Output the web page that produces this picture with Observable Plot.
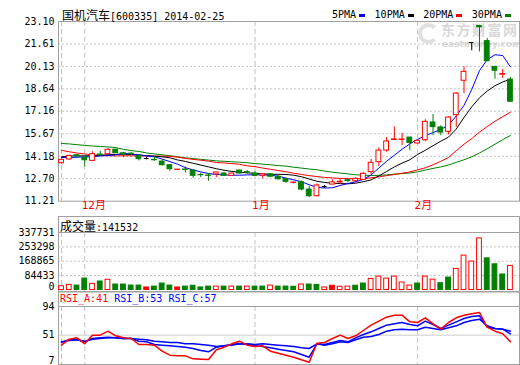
<!DOCTYPE html>
<html><head><meta charset="utf-8">
<script src="https://cdn.jsdelivr.net/npm/d3@7"></script>
<script src="https://cdn.jsdelivr.net/npm/@observablehq/plot@0.6"></script>
<style>
html,body{margin:0;padding:0;background:#fff;}
#chart{position:relative;width:520px;height:365px;overflow:hidden;background:#fff;}
.abs{position:absolute;}
.mono{font-family:"DejaVu Sans Mono",monospace;font-size:10px;}
.cjk{font-family:"Noto Sans CJK SC",sans-serif;font-size:12px;}
.hdr{position:absolute;left:58px;width:462px;box-sizing:border-box;border:1px solid #a0a0a0;border-bottom:none;}
.sw{display:inline-block;width:6px;height:3px;vertical-align:middle;margin:0 9.5px 0 3px;}
.line{white-space:nowrap;line-height:12px;}
</style></head><body>
<div id="chart">
  <div class="abs" id="wm" style="left:416px;top:21px;color:#d8d8d8;white-space:nowrap;">
    <div class="abs" style="left:2px;top:2px;width:13px;height:13px;border-radius:50%;border:4px solid #e0e0e0;border-right-color:transparent;"></div>
    <div class="abs" style="left:25px;top:1px;font-family:'Noto Sans CJK SC';font-weight:bold;font-size:14px;line-height:14px;letter-spacing:1.5px;">东方财富网</div>
    <div class="abs" style="left:26px;top:19px;font-family:'DejaVu Sans';font-weight:bold;font-size:9px;line-height:9px;">eastmoney.com</div>
  </div>
  <div class="abs" id="p1" style="left:0;top:0;"></div>
  <div class="abs line" id="title" style="left:62px;top:9px;"></div>
  <div class="abs line mono" id="legend" style="left:332px;top:9px;"></div>
  <div class="hdr" style="top:216px;height:16px;"></div>
  <div class="abs" id="p2" style="left:0;top:216px;"></div>
  <div class="abs line" id="volhdr" style="left:60px;top:220px;"></div>
  <div class="hdr" style="top:291px;height:15px;"></div>
  <div class="abs" id="p3" style="left:0;top:291px;"></div>
  <div class="abs line mono" id="rsihdr" style="left:60px;top:293px;"></div>
</div>
<script>
// ---------- data ----------
const stockName = "国机汽车";
const stockCode = "[600335] 2014-02-25";
const open  = [13.72,13.97,14.25,14.08,13.88,14.30,14.32,14.62,14.38,14.36, 14.21,14.03,13.95,13.83,13.59,13.28,13.31,13.24,12.95,12.91, 12.98,13.04,12.89,13.24,13.13,13.04,12.89,12.99,12.83,12.66, 12.42,12.47,11.98,11.54,12.18,12.31,12.45,12.60,12.53,12.62, 13.13,13.79,14.56,15.26,15.27,15.42,15.03,15.24,16.42,16.09, 15.80,16.90,19.18,21.71,22.80,21.80,20.10,19.58,19.26];
const high  = [14.00,14.25,14.30,14.21,14.48,14.52,14.69,14.65,14.45,14.42, 14.25,14.10,14.18,13.92,13.62,13.31,13.48,13.26,13.06,13.04, 13.13,13.10,13.08,13.26,13.24,13.20,13.00,13.02,12.92,12.70, 12.50,12.55,12.20,12.35,12.25,12.62,12.66,12.66,12.75,13.12, 13.98,14.74,15.41,16.12,15.71,15.45,15.25,16.60,16.95,16.20, 16.80,18.40,20.10,21.71,22.85,21.98,20.12,19.94,19.40];
const low   = [13.65,13.92,14.12,13.48,13.82,14.20,14.30,14.36,14.10,14.26, 13.87,13.95,13.85,13.55,13.19,13.27,13.08,12.73,12.76,12.53, 12.76,12.86,12.86,13.02,12.99,12.86,12.70,12.80,12.60,12.40, 12.35,11.90,11.45,11.49,12.05,12.30,12.30,12.42,12.42,12.58, 12.97,13.50,14.45,15.23,14.89,14.55,15.00,15.15,15.54,15.54, 15.60,16.10,18.33,21.16,21.09,20.45,19.28,19.33,17.79];
const close = [13.95,14.21,14.18,13.92,14.32,14.24,14.61,14.38,14.30,14.32, 13.99,14.03,13.92,13.59,13.33,13.30,13.28,12.89,12.93,12.89, 13.11,12.89,13.04,13.04,13.11,12.89,12.99,12.83,12.66,12.49, 12.44,11.98,11.54,12.25,12.18,12.45,12.50,12.55,12.69,13.02, 13.75,14.56,15.16,15.30,15.30,15.06,15.21,16.46,16.11,15.75, 16.75,18.33,19.77,21.71,22.72,20.47,19.84,19.62,17.79];
const volume = [22000,30000,26000,67000,36000,50000,60000,32000,32000,26000, 26000,15000,20000,38000,26000,15000,20000,25000,15000,20000, 20000,20000,20000,20000,20000,20000,20000,26000,20000,20000, 19000,32000,32000,30000,15000,25000,19000,20000,25000,38000, 65000,79000,67000,79000,44000,26000,38000,79000,61000,40000, 73000,124000,202000,167000,303000,186000,151000,91000,141532];
// u = up (hollow red), d = down (green), f = flat (filled red)
const volDir = "uuddududdddfdddfddddudududduddduddufuudduuuuuuduudduuuudddud".slice(0,59);
const ma5  = [14.10,14.10,14.12,14.14,14.15,14.20,14.23,14.28,14.38,14.33, 14.28,14.20,14.15,14.00,13.83,13.66,13.43,13.28,13.15,13.04, 12.98,12.95,12.93,12.93,12.95,12.96,12.95,12.93,12.86,12.74, 12.62,12.50,12.30,12.13,12.08,12.10,12.25,12.38,12.50,12.65, 12.95,13.40,13.85,14.25,14.65,15.00,15.30,15.55,15.75,15.95, 16.25,16.85,17.55,18.60,19.85,20.58,20.90,20.85,20.10];
const ma10 = [14.15,14.20,14.21,14.21,14.22,14.25,14.28,14.30,14.32,14.30, 14.27,14.22,14.19,14.15,14.08,13.94,13.84,13.72,13.60,13.48, 13.36,13.26,13.18,13.13,13.09,13.05,13.02,12.99,12.99,12.98, 12.93,12.83,12.68,12.53,12.45,12.40,12.38,12.36,12.40,12.50, 12.62,12.88,13.18,13.48,13.73,13.95,14.30,14.58,14.88,15.18, 15.45,15.98,16.75,17.45,18.05,18.50,18.85,19.10,19.28];
const ma20 = [14.58,14.48,14.40,14.33,14.28,14.24,14.22,14.21,14.21,14.21, 14.21,14.20,14.20,14.19,14.18,14.12,14.04,13.98,13.92,13.86, 13.77,13.74,13.70,13.65,13.55,13.50,13.40,13.32,13.24,13.16, 13.06,12.98,12.90,12.84,12.78,12.75,12.72,12.70,12.69,12.70, 12.76,12.82,12.90,12.98,13.06,13.15,13.28,13.42,13.62,13.85, 14.10,14.55,14.98,15.35,15.78,16.15,16.50,16.80,17.10];
const ma30 = [15.03,15.00,14.95,14.90,14.86,14.83,14.80,14.76,14.64,14.56, 14.50,14.40,14.34,14.28,14.22,14.15,14.08,14.03,13.98,13.93, 13.88,13.85,13.82,13.79,13.75,13.70,13.66,13.62,13.57,13.53, 13.46,13.40,13.34,13.29,13.20,13.13,13.07,13.02,12.96,12.93, 12.91,12.92,12.95,13.00,13.04,13.08,13.15,13.27,13.38,13.48, 13.60,13.78,13.95,14.15,14.40,14.68,14.98,15.28,15.56];
const rsiA = [36,45,47,38,51,51,57,50,47,46, 37,37,36,27,21,20,20,15.5,15,14.5, 29,33,38,42,36,34,35,27,24,21, 18,14,10.5,39,40,46,51,46,50,58, 66,72,78,81,81,71,70,77,68,60, 70,77,81,83,85,63,57,53,41];
const rsiB = [40,44,44,41,46,47,48,47,46,46, 42,41,37,36,35,34,33,31,28,26, 33,35,37,38,37,35,34,32,30,28, 26,22,18,38,37,40,43,41,47,52, 56,61,66,68,70,67,65,72,67,61, 66,71,76,79,80,63,61,60,53];
const rsiC = [41,43,44,42,45,46,47,47,46,46, 45,44,42,41,40,40,38,38,37,36, 34,35,36,38,38,37,38,37,36,35, 34,32,31,38,36,38,41,40,44,48, 49,52,57,59,60,59,59,63,61,59, 62,65,70,73,75,65,61,60,57];
const priceTicks = [23.10,21.61,20.13,18.64,17.16,15.67,14.18,12.70,11.21];
const volTicks = [0,84433,168865,253298,337731];
const rsiTicks = [94,51,7];
const monthIdx = [4,26,47];
const monthLabels = ["12月","1月","2月"];
const vGridIdx = [1,4,26,47];
const maNames = ["5PMA","10PMA","20PMA","30PMA"];

// ---------- styles ----------
const RED = "#ff0000", GREEN = "#008000", BLUE = "#0000ff", BLACK = "#000000";
const maColors = [BLUE, BLACK, RED, GREEN];
const FRAME = "#a0a0a0", GRID = "#c4c4c4";
const MONO = "DejaVu Sans Mono";

const rows = open.map((o, k) => ({
  i: k + 1, open: o, high: high[k], low: low[k], close: close[k],
  vol: volume[k], vd: volDir[k], ma5: ma5[k], ma10: ma10[k], ma20: ma20[k], ma30: ma30[k],
  rA: rsiA[k], rB: rsiB[k], rC: rsiC[k]
}));
const months = monthIdx.map((i, k) => ({i, label: monthLabels[k]}));
const col = d => d.close > d.open ? RED : d.close < d.open ? GREEN : BLACK;
const bodies = rows.filter(d => d.close !== d.open);
const dojis = rows.filter(d => d.close === d.open);
const hw = 0.31;

const common = {
  width: 520, marginLeft: 58, marginRight: 1,
  x: {domain: [0.61, 60.17], axis: null},
  color: {type: "identity"},
  style: {background: "transparent", overflow: "visible"}
};
const vgrid = () => Plot.ruleX(vGridIdx, {x: d => d, stroke: GRID, strokeDasharray: "5,3"});
const ylab = (ticks, fmt, dy) => Plot.text(ticks, {y: d => d, text: fmt, frameAnchor: "left", textAnchor: "end", dx: -4, dy, fontFamily: MONO, fontSize: 10, fill: "#000"});

// ---------- main price panel ----------
const p1 = Plot.plot({
  ...common, height: 215, marginTop: 21, marginBottom: 14.3,
  y: {domain: [priceTicks[priceTicks.length - 1], priceTicks[0]], axis: null},
  marks: [
    Plot.ruleY(priceTicks.slice(1, -1), {y: d => d, stroke: GRID, strokeDasharray: "2,2"}),
    vgrid(),
    Plot.frame({stroke: FRAME}),
    Plot.line(rows, {x: "i", y: "ma30", stroke: GREEN, strokeWidth: 1}),
    Plot.line(rows, {x: "i", y: "ma20", stroke: RED, strokeWidth: 1}),
    Plot.line(rows, {x: "i", y: "ma10", stroke: BLACK, strokeWidth: 1}),
    Plot.line(rows, {x: "i", y: "ma5", stroke: BLUE, strokeWidth: 1}),
    Plot.ruleX(rows, {x: "i", y1: "low", y2: "high", stroke: col}),
    Plot.rect(bodies, {x1: d => d.i - hw, x2: d => d.i + hw, y1: "open", y2: "close",
      fill: d => d.close > d.open ? "#ffffff" : GREEN, stroke: col}),
    Plot.ruleY(dojis, {x1: d => d.i - hw, x2: d => d.i + hw, y: "close", stroke: col}),
    ylab(priceTicks, d => d.toFixed(2), 0),
    Plot.text(months, {x: "i", text: "label", frameAnchor: "bottom", dy: 8, dx: -3, textAnchor: "start",
      fill: RED, fontFamily: "DejaVu Sans Mono, Noto Sans CJK SC", fontSize: 11})
  ]
});
document.getElementById("p1").appendChild(p1);

// ---------- volume panel ----------
const p2 = Plot.plot({
  ...common, height: 76, marginTop: 16, marginBottom: 0.5,
  y: {domain: [volTicks[0], volTicks[volTicks.length - 1]], insetBottom: 2, axis: null},
  marks: [
    Plot.ruleY(volTicks.slice(1, -1), {y: d => d, stroke: GRID, strokeDasharray: "2,2"}),
    vgrid(),
    Plot.frame({stroke: FRAME}),
    Plot.rect(rows, {x1: d => d.i - hw, x2: d => d.i + hw, y1: 0, y2: "vol",
      fill: d => d.vd === "u" ? "#ffffff" : d.vd === "d" ? GREEN : RED,
      stroke: d => d.vd === "d" ? GREEN : RED}),
    ylab(volTicks.slice(1), d => String(d), 0),
    ylab(volTicks.slice(0, 1), d => String(d), -3.5)
  ]
});
document.getElementById("p2").appendChild(p2);

// ---------- RSI panel ----------
const p3 = Plot.plot({
  ...common, height: 74, marginTop: 15, marginBottom: 1,
  y: {domain: [rsiTicks[rsiTicks.length - 1], rsiTicks[0]], axis: null},
  marks: [
    Plot.ruleY(rsiTicks.slice(1, -1), {y: d => d, stroke: "#cccccc"}),
    vgrid(),
    Plot.frame({stroke: FRAME}),
    Plot.line(rows, {x: "i", y: "rC", stroke: BLUE}),
    Plot.line(rows, {x: "i", y: "rB", stroke: BLUE}),
    Plot.line(rows, {x: "i", y: "rA", stroke: RED}),
    ylab(rsiTicks.slice(0, 2), d => String(d), 0),
    ylab(rsiTicks.slice(2), d => String(d), -4)
  ]
});
document.getElementById("p3").appendChild(p3);

// ---------- text headers ----------
document.getElementById("title").innerHTML =
  `<span class="cjk">${stockName}</span><span class="mono">${stockCode}</span>`;
document.getElementById("legend").innerHTML = maNames.map((n, k) =>
  `<span>${n}</span><span class="sw" style="background:${maColors[k]}"></span>`).join("");
document.getElementById("volhdr").innerHTML =
  `<span class="cjk">成交量</span><span class="mono">:${volume[volume.length - 1]}</span>`;
const last = a => a[a.length - 1];
document.getElementById("rsihdr").innerHTML =
  `<span style="color:${RED}">RSI_A:${last(rsiA)}</span> <span style="color:${BLUE}">RSI_B:${last(rsiB)}</span> <span style="color:${BLUE}">RSI_C:${last(rsiC)}</span>`;
</script>
</body></html>
